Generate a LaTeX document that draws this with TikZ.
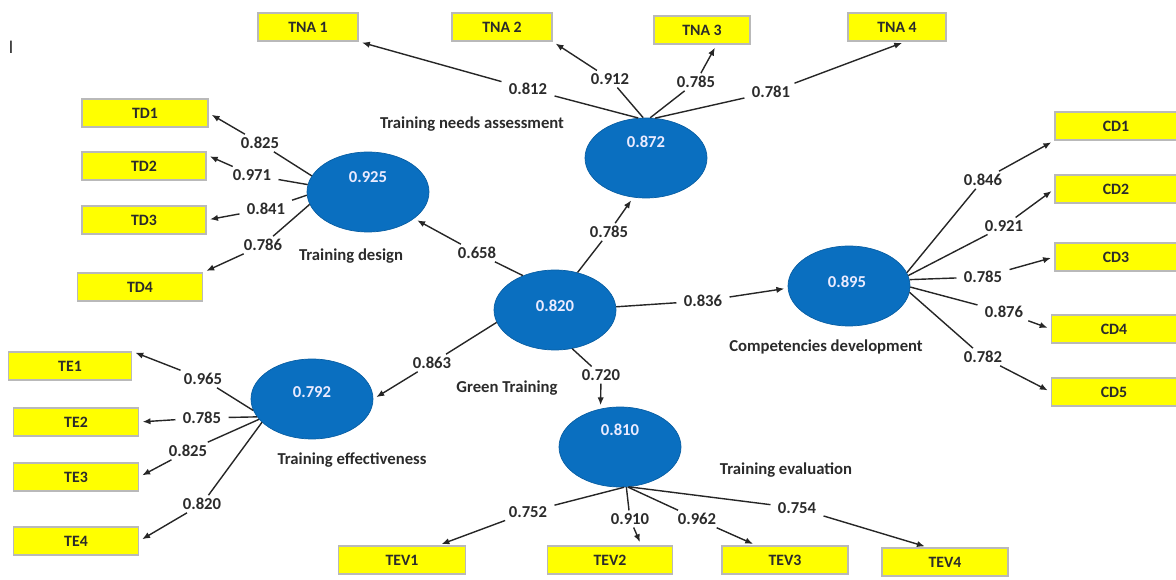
\documentclass[tikz,border=0pt]{standalone}
\usepackage{fontspec}
\setmainfont{Carlito}
\usepackage{xcolor}
\usetikzlibrary{arrows.meta,shapes.geometric}
\definecolor{lvblue}{HTML}{0A6FC0}
\definecolor{indyellow}{HTML}{FFFF00}
\definecolor{txtgray}{HTML}{2B2B2B}

\begin{document}
\begin{tikzpicture}[x=0.02cm,y=-0.02cm,every node/.style={font=\fontsize{9.5}{11}\selectfont\bfseries},
  lv/.style={ellipse,fill=lvblue,draw=lvblue!85!black,minimum width=2.44cm,minimum height=1.6cm,inner sep=0pt},
  lvnum/.style={text=blue!8!white},
  lvname/.style={text=txtgray},
  ind/.style={draw=gray!55,fill=indyellow,line width=0.7pt,minimum height=0.56cm,inner sep=0pt,
    font=\fontsize{9}{10}\selectfont\bfseries,text=txtgray},
  wt/.style={text=txtgray,inner xsep=4pt,inner ysep=1.5pt},
  arr/.style={draw=black!85,line width=0.8pt,-{Latex[length=4.5pt,width=3.6pt]},shorten >=2pt}]
  \useasboundingbox (0,0) rectangle (1176,580);
  \clip (0,0) rectangle (1176,580);
  \node[font=\fontsize{11}{12}\selectfont,text=black!80] (mark) at (11,47) {I};
  % indicator boxes
  \foreach \n/\t/\x/\y/\w in {tna1/TNA 1/308/27/2.0,tna2/TNA 2/502/27/2.0,tna3/TNA 3/702/30/1.92,tna4/TNA 4/897/27/1.96,
      td1/TD1/145/113/2.52,td2/TD2/144/166/2.48,td3/TD3/144/220/2.48,td4/TD4/140/287/2.5,
      te1/TE1/70/366/2.46,te2/TE2/76/422/2.5,te3/TE3/76/477/2.5,te4/TE4/76/541/2.5,
      tev1/TEV1/402/560/2.54,tev2/TEV2/610/560/2.5,tev3/TEV3/785/560/2.52,tev4/TEV4/945/562/2.52,
      cd1/CD1/1116/126/2.44,cd2/CD2/1116/189/2.44,cd3/CD3/1116/257/2.44,cd4/CD4/1114/329/2.5,cd5/CD5/1114/392/2.5}{
    \node[ind,minimum width=\w cm] (\n) at (\x,\y) {\t};
  }
  % latent variables
  \node[lv] (tna) at (646,158) {};
  \node[lv] (td) at (368,192) {};
  \node[lv] (gt) at (555,310) {};
  \node[lv] (cd) at (849,286) {};
  \node[lv] (te) at (312,399) {};
  \node[lv] (tev) at (620,447) {};
  \node[lvnum] (tnaV) at (646,142) {0.872};
  \node[lvnum] (tdV) at (368,177) {0.925};
  \node[lvnum] (gtV) at (555,306) {0.820};
  \node[lvnum] (cdV) at (847,282) {0.895};
  \node[lvnum] (teV) at (312,392) {0.792};
  \node[lvnum] (tevV) at (620,430) {0.810};
  \node[lvname] (tnaL) at (472,124) {Training needs assessment};
  \node[lvname] (tdL) at (351,256) {Training design};
  \node[lvname] (gtL) at (507,388) {Green Training};
  \node[lvname] (cdL) at (826,347) {Competencies development};
  \node[lvname] (teL) at (352,460) {Training effectiveness};
  \node[lvname] (tevL) at (786,470) {Training evaluation};
  % loadings and paths
  \foreach \src/\ang/\w/\v/\x/\y/\dst in {
      tna/101/wa1/0.812/528/89/tna1.south east,tna/94/wa2/0.912/610/79/tna2.south east,
      tna/84/wa3/0.785/696/82/tna3.-45,tna/77/wa4/0.781/771/92/tna4.-60,
      td/164/wd1/0.825/260/143/td1.east,td/173/wd2/0.971/252/175/td2.10,
      td/183/wd3/0.841/266/209/td3.east,td/192/wd4/0.786/263/245/td4.north east,
      te/191/we1/0.965/203/379/te1.north east,te/198/we2/0.785/202/418/te2.east,
      te/201/we3/0.825/188/451/te3.east,te/205/we4/0.820/202/504/te4.east,
      cd/13/wc1/0.846/983/180/cd1.south west,cd/10/wc2/0.921/1004/226/cd2.west,
      cd/6/wc3/0.785/983/277/cd3.west,cd/-1/wc4/0.876/1004/312/cd4.west,cd/-6/wc5/0.782/983/357/cd5.west,
      tev/276/wv1/0.752/528/512/tev1.22,tev/279/wv2/0.910/630/519/tev2.25,
      tev/281/wv3/0.962/697/519/tev3.153,tev/283/wv4/0.754/797/508/tev4.139,
      gt/133/wg1/0.658/477/253/td.330,gt/59/wg2/0.785/609/232/tna.252,gt/3/wg3/0.836/703/301/cd.182,
      gt/192/wg4/0.863/432/363/te.0,gt/294/wg5/0.720/601/375/tev.117}{
    \node[wt] (\w) at (\x,\y) {\v};
    \draw[arr] (\src.\ang) -- (\w) -- (\dst);
  }
\end{tikzpicture}
\end{document}
